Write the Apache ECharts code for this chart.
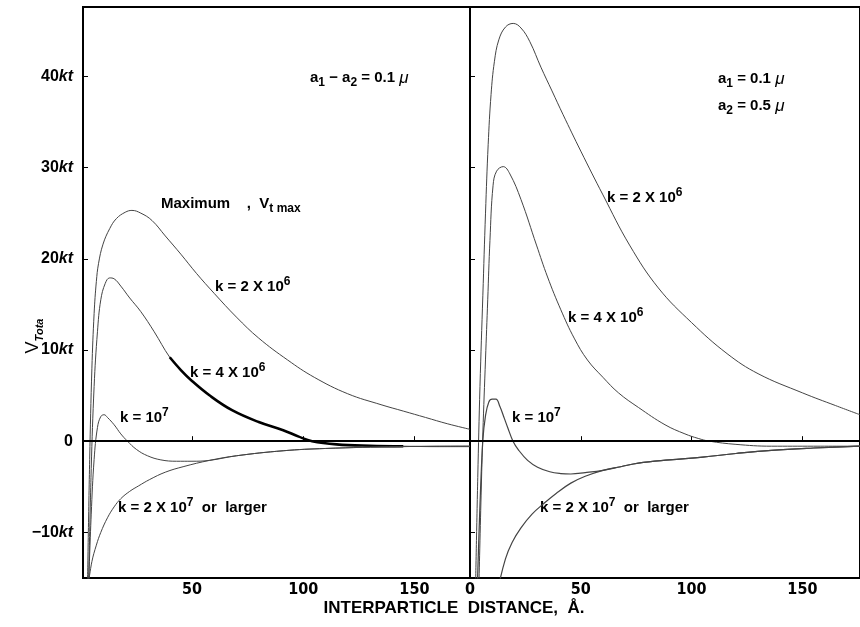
<!DOCTYPE html>
<html><head><meta charset="utf-8">
<script src="https://cdn.jsdelivr.net/npm/echarts@6/dist/echarts.min.js"></script>
<style>html,body{margin:0;padding:0;background:#fff}#c{width:860px;height:627px}</style>
</head><body><div id="c"></div>
<script>
// ---- data (x: interparticle distance in Å, y: V_Tota in kt) ----
const xTicksLeft = [50, 100, 150];
const xTicksRight = [0, 50, 100, 150];
const yTicks = [-10, 0, 10, 20, 30, 40];

// Left panel: a1 = a2 = 0.1 µ
const L_k2e6 = [[3,-16],[4,-2],[5,8],[6,14],[7,17.5],[8,19.5],[10,21.6],[13,23.3],[16,24.4],[20,25.1],[23,25.3],[27,25],[32,24.2],[38,22.5],[45,20.5],[52,18.4],[60,16.2],[70,13.6],[80,11.3],[93,8.9],[105,7],[120,5.2],[135,4],[145,3.3],[155,2.6],[165,1.9],[175,1.3]];
const L_k4e6 = [[3.5,-16],[4.7,-3],[6,6],[7.5,12],[9,15.5],[11,17.3],[13,17.9],[15,17.8],[18,17],[22,15.7],[27,14.2],[33,12],[40,9.2],[45,7.8],[50,6.6],[58,5],[68,3.4],[80,2.1],[91,1.2],[98,0.5],[104,0],[115,-0.35],[130,-0.5],[145,-0.55],[160,-0.6],[175,-0.6]];
const L_k1e7 = [[3.5,-16],[4.7,-8],[6,-2],[7.5,1.5],[9,2.7],[10.5,2.9],[12,2.6],[15,1.8],[18,0.8],[21,0],[25,-0.9],[30,-1.6],[36,-2.05],[43,-2.2],[50,-2.2],[58,-2.1],[70,-1.6],[91,-1.05],[110,-0.8],[143,-0.6],[175,-0.55]];
const L_k2e7 = [[3.5,-15.5],[5,-13.2],[7,-11.4],[9,-10],[12,-8.4],[15,-7.2],[18,-6.3],[22,-5.5],[26,-4.9],[31,-4.2],[38,-3.4],[46,-2.8],[58,-2.1],[70,-1.6],[91,-1.05],[110,-0.8],[143,-0.6],[175,-0.55]];

// Right panel: a1 = 0.1 µ, a2 = 0.5 µ
const R_k2e6 = [[2.5,-16],[3.5,-4],[4.5,6],[5.8,16],[7,25],[8.2,32.5],[9.5,38],[11,41.6],[13,44],[16,45.4],[19.5,45.8],[23,45.3],[27,43.8],[32,41],[37,38.4],[42,35.8],[50,31.8],[60,27],[72,21.5],[85,16.8],[100,13],[116,9.6],[130,7.4],[150,5.3],[165,3.9],[176,2.9]];
const R_k4e6 = [[4,-16],[5,-6],[5.8,0.9],[7,9],[8,15.5],[9,22],[10.4,28],[12,29.6],[15,30.1],[18,29.3],[23,26.5],[30,21.5],[35,18],[41,14.4],[47,11.3],[53,8.9],[60,7],[67,5.3],[76,3.7],[88,1.8],[97,0.8],[103,0.3],[108,0],[120,-0.35],[136,-0.55],[155,-0.55],[176,-0.55]];
const R_k1e7 = [[3.3,-16],[4.5,-7],[5.8,0.1],[7,2.8],[8.5,4.3],[10,4.6],[11.7,4.6],[13.5,3.8],[15.5,2.5],[17,1.5],[19.4,0],[22,-1],[26,-2.1],[30.5,-2.85],[36,-3.35],[41,-3.55],[45.5,-3.6],[52,-3.45],[60,-3.2],[68,-2.8],[76,-2.4],[90,-2.05],[105,-1.75],[120,-1.35],[136,-1.0],[155,-0.75],[176,-0.55]];
const R_k2e7 = [[12.8,-16],[16,-12.9],[19,-11.1],[23,-9.5],[28,-8],[33,-6.9],[39,-5.7],[45.5,-4.6],[52,-3.85],[60,-3.2],[68,-2.8],[76,-2.4],[90,-2.05],[105,-1.75],[120,-1.35],[136,-1.0],[155,-0.75],[176,-0.55]];

// ---- chart ----
const chart = echarts.init(document.getElementById('c'), null, {renderer: 'canvas'});
const FONT = "'Liberation Sans', 'DejaVu Sans', sans-serif";
const NARROW = "'Liberation Sans Narrow', 'DejaVu Sans Condensed', 'Liberation Sans', sans-serif";

const rich = {
  t:   {fontFamily: FONT, fontSize: 15, fontWeight: 'bold', fill: '#000', lineHeight: 22},
  sup: {fontFamily: FONT, fontSize: 12, fontWeight: 'bold', fill: '#000', verticalAlign: 'top', lineHeight: 22},
  sub: {fontFamily: FONT, fontSize: 12, fontWeight: 'bold', fill: '#000', verticalAlign: 'bottom', lineHeight: 22},
  mu:  {fontFamily: FONT, fontSize: 17, fontStyle: 'italic', fill: '#000', lineHeight: 22}
};

function txt(x, y, text) {
  return {type: 'text', x: x, y: y, silent: true,
    style: {text: text, rich: rich, fill: '#000', align: 'left', verticalAlign: 'middle',
            font: 'bold 15px ' + FONT}};
}

function yAxisDef(idx, showLabels) {
  return {
    type: 'value', gridIndex: idx, min: -15, max: 47.6,
    axisLine: {show: false}, splitLine: {show: false},
    axisTick: {show: true, inside: true, length: 5, customValues: yTicks, lineStyle: {color: '#000', width: 1}},
    axisLabel: {show: showLabels, customValues: yTicks, margin: 10,
      formatter: function (v) {
        if (v === 0) return '{n|0}';
        return '{n|' + (v < 0 ? '\u2212' + (-v) : v) + '}{k|kt}';
      },
      rich: {
        n: {fontFamily: FONT, fontSize: 16, fontWeight: 'bold', color: '#000'},
        k: {fontFamily: FONT, fontSize: 16, fontWeight: 'bold', fontStyle: 'italic', color: '#000'}
      }
    }
  };
}

function xAxisDef(idx, min, max, ticks) {
  return {
    type: 'value', gridIndex: idx, min: min, max: max,
    axisLine: {show: false}, splitLine: {show: false},
    axisTick: {show: true, inside: true, length: 5, customValues: ticks, lineStyle: {color: '#000', width: 1}},
    axisLabel: {customValues: ticks, margin: 4, color: '#000', fontSize: 16, fontWeight: 'bold', fontFamily: NARROW}
  };
}

function line(name, data, xi, yi, width, color) {
  return {
    name: name, type: 'line', xAxisIndex: xi, yAxisIndex: yi, data: data,
    showSymbol: false, symbol: 'none', smooth: 0.4,
    lineStyle: {color: color || '#444', width: width || 1}, clip: true, silent: true
  };
}

function zeroLine(xi, yi) {
  return {
    type: 'line', xAxisIndex: xi, yAxisIndex: yi, data: [], silent: true,
    markLine: {silent: true, symbol: 'none', label: {show: false},
      lineStyle: {color: '#000', width: 2.2, type: 'solid'}, data: [{yAxis: 0}]}
  };
}

const thick = L_k4e6.filter(p => p[0] >= 40 && p[0] <= 145);

const option = {
  animation: false,
  backgroundColor: '#fff',
  grid: [
    {left: 83, right: 390, top: 7, bottom: 49, show: true, borderColor: '#000', borderWidth: 2, backgroundColor: 'transparent'},
    {left: 470, right: -3, top: 7, bottom: 49, show: true, borderColor: '#000', borderWidth: 2, backgroundColor: 'transparent'}
  ],
  xAxis: [xAxisDef(0, 1, 175, xTicksLeft), xAxisDef(1, 0, 176, xTicksRight)],
  yAxis: [yAxisDef(0, true), yAxisDef(1, false)],
  series: [
    zeroLine(0, 0), zeroLine(1, 1),
    line('L k=2e6', L_k2e6, 0, 0, 1),
    line('L k=4e6', L_k4e6, 0, 0, 1),
    line('L k=4e6 thick', thick, 0, 0, 2.6, '#000'),
    line('L k=1e7', L_k1e7, 0, 0, 1),
    line('L k=2e7', L_k2e7, 0, 0, 1),
    line('R k=2e6', R_k2e6, 1, 1, 1),
    line('R k=4e6', R_k4e6, 1, 1, 1),
    line('R k=1e7', R_k1e7, 1, 1, 1.2),
    line('R k=2e7', R_k2e7, 1, 1, 1.2)
  ],
  graphic: [
    // y-axis name
    {type: 'text', x: 33, y: 336, rotation: Math.PI / 2, silent: true,
     style: {text: '{v|V}{s|Tota}', align: 'center', verticalAlign: 'middle',
       rich: {v: {fontFamily: FONT, fontSize: 18, fill: '#000', lineHeight: 24},
              s: {fontFamily: FONT, fontSize: 11, fontStyle: 'italic', fontWeight: 'bold', fill: '#000', verticalAlign: 'bottom', lineHeight: 24}}}},
    // x-axis name
    {type: 'text', x: 454, y: 608, silent: true,
     style: {text: 'INTERPARTICLE  DISTANCE,  \u00C5.', align: 'center', verticalAlign: 'middle',
       font: 'bold 17px ' + FONT, fill: '#000'}},
    // left annotations
    txt(310, 78, '{t|a}{sub|1}{t| \u2212 a}{sub|2}{t| = 0.1 }{mu|\u03BC}'),
    txt(161, 204, '{t|Maximum    ,  V}{sub|t max}'),
    txt(215, 287, '{t|k = 2 X 10}{sup|6}'),
    txt(190, 373, '{t|k = 4 X 10}{sup|6}'),
    txt(120, 418, '{t|k = 10}{sup|7}'),
    txt(118, 508, '{t|k = 2 X 10}{sup|7}{t|  or  larger}'),
    // right annotations
    txt(718, 79, '{t|a}{sub|1}{t| = 0.1 }{mu|\u03BC}'),
    txt(718, 106, '{t|a}{sub|2}{t| = 0.5 }{mu|\u03BC}'),
    txt(607, 198, '{t|k = 2 X 10}{sup|6}'),
    txt(568, 318, '{t|k = 4 X 10}{sup|6}'),
    txt(512, 418, '{t|k = 10}{sup|7}'),
    txt(540, 508, '{t|k = 2 X 10}{sup|7}{t|  or  larger}')
  ]
};
chart.setOption(option);
</script>
</body></html>
